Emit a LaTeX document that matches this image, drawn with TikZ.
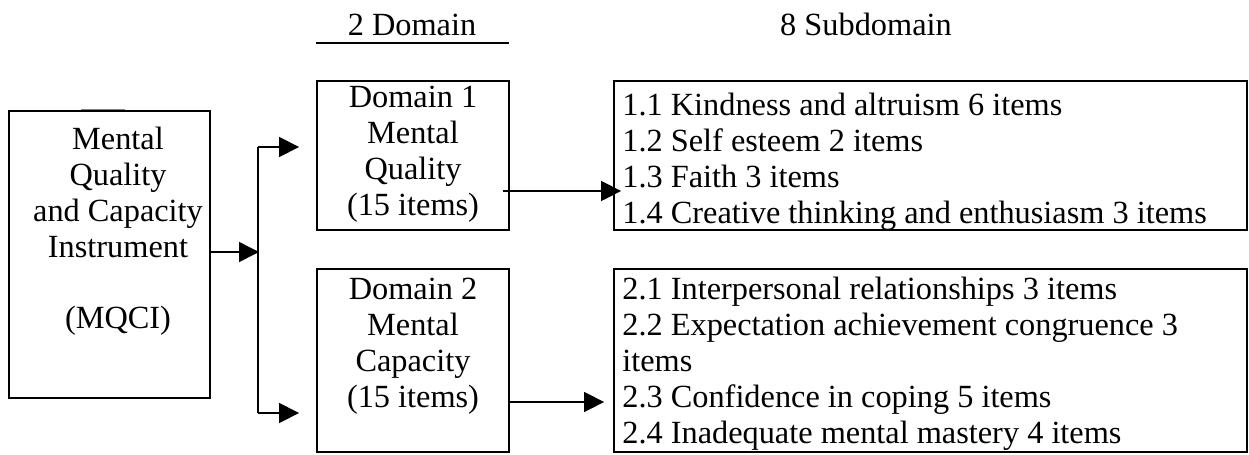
\documentclass[tikz,border=0pt]{standalone}
\usepackage{fontspec}
\setmainfont{Liberation Serif}
\usepackage{tikz}
\usetikzlibrary{positioning, arrows.meta}
\tikzstyle{arrow} = [line width=0.9pt,-{Triangle[length=0.4cm,width=0.4cm]}]

\begin{document}
\begin{tikzpicture}[x=0.02cm, y=-0.02cm]
                    \tikzstyle{every node}=[font=\fontsize{18.4}{20.4}\selectfont, inner sep=0pt]
                    \tikzstyle{box} = [draw, line width=1.1pt, rectangle]
                    \tikzstyle{words} = [align=center]
                    \tikzstyle{list} = [align=left]

                    \useasboundingbox (0,0) rectangle (1249,454);

                    % headers
                    \node[anchor=base](domhead) at (412,35) {2 Domain};
                    \node[anchor=base](subhead) at (866,35) {8 Subdomain};
                    \draw[line width=1.1pt] (316,43) -- (509,43);

                    % boxes
                    \node[box, minimum width=4.02cm, minimum height=5.74cm](mqci) at (109.5,254.5) {};
                    \node[box, minimum width=3.84cm, minimum height=2.98cm](dom1) at (413,155.5) {};
                    \node[box, minimum width=3.84cm, minimum height=3.66cm](dom2) at (413,360.5) {};
                    \node[box, minimum width=12.66cm, minimum height=2.98cm](sub1) at (930.5,155.5) {};
                    \node[box, minimum width=12.66cm, minimum height=3.66cm](sub2) at (930.5,360.5) {};
                    \draw[gray, line width=0.5pt] (81,109.5) -- (125,109.5);

                    % texts
                    \node[words, anchor=north](mqcitext) at (118,127) {Mental\\Quality\\and Capacity\\Instrument\\[20.4pt](MQCI)};
                    \node[words, anchor=north](dom1text) at (413,86) {Domain 1\\Mental\\Quality\\(15 items)};
                    \node[words, anchor=north](dom2text) at (413,278) {Domain 2\\Mental\\Capacity\\(15 items)};
                    \node[list, anchor=north west](sub1text) at (622,93) {1.1 Kindness and altruism 6 items\\1.2 Self esteem 2 items\\1.3 Faith 3 items\\1.4 Creative thinking and enthusiasm 3 items};
                    \node[list, anchor=north west](sub2text) at (622,277) {2.1 Interpersonal relationships 3 items\\2.2 Expectation achievement congruence 3\\items\\2.3 Confidence in coping 5 items\\2.4 Inadequate mental mastery 4 items};

                    % connectors
                    \coordinate (jn) at (259,252);
                    \coordinate (jtop) at (258,147);
                    \coordinate (jbot) at (258,413);
                    \coordinate (r1) at (509,191);
                    \coordinate (r2) at (509,402);
                    \draw[arrow] (mqci.east |- jn) -- (jn);
                    \draw[line width=0.9pt] (jtop) -- (jbot);
                    \draw[arrow, shorten >=0.34cm] (jtop) -- (jtop -| dom1.west);
                    \draw[arrow, shorten >=0.34cm] (jbot) -- (jbot -| dom2.west);
                    \draw[arrow, shorten <=-0.14cm, shorten >=-0.16cm] (dom1.east |- r1) -- (sub1.west |- r1);
                    \draw[arrow, shorten >=0.18cm] (dom2.east |- r2) -- (sub2.west |- r2);

\end{tikzpicture}
\end{document}
